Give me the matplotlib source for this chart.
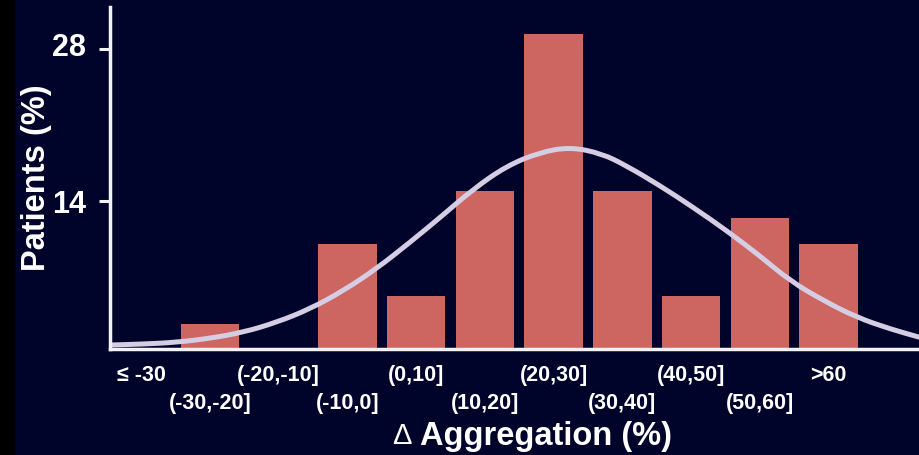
import matplotlib.pyplot as plt
from matplotlib.patches import Rectangle, PathPatch
from matplotlib.path import Path
from matplotlib.transforms import ScaledTranslation

plt.rcParams['font.family'] = ['Liberation Sans', 'DejaVu Sans']

# change in aggregation bins and share of patients per bin
categories = ['≤ -30', '(-30,-20]', '(-20,-10]', '(-10,0]', '(0,10]', '(10,20]',
              '(20,30]', '(30,40]', '(40,50]', '(50,60]', '>60']
patients_pct = [0, 2.6, 0, 10.0, 5.2, 14.9, 29.4, 14.9, 5.2, 12.4, 10.0]

# fitted distribution curve, in bin-index units
curve_x = [-0.46, 0.03, 0.51, 1.00, 1.48, 1.97, 2.45, 2.94, 3.43, 3.91, 4.35, 4.83, 5.32,
           5.80, 6.24, 6.70, 7.06, 7.55, 8.03, 8.52, 9.00, 9.44, 9.93, 10.41, 10.90, 11.33]
curve_y = [0.68, 0.77, 0.93, 1.30, 1.85, 2.78, 4.00, 5.69, 7.76, 10.16, 12.46, 15.07, 17.22,
           18.46, 18.95, 18.35, 17.22, 15.38, 13.39, 11.23, 8.92, 6.61, 4.77, 3.24, 2.16, 1.39]

navy = '#00032A'
W, H = 920, 456

fig = plt.figure(figsize=(W / 100, H / 100), dpi=100, facecolor=navy)
fig.add_artist(Rectangle((0, 0), 14 / W, 1, transform=fig.transFigure,
                         color='black', zorder=0))

ax = fig.add_axes([110 / W, 1 - 349.5 / H, 1 - 110 / W, (349.5 - 8) / H])
ax.set_facecolor(navy)

x = list(range(len(categories)))
ax.bar(x, patients_pct, width=0.85, color='#CD6561', zorder=2)

# smooth the fitted curve: quadratic segments through the midpoints of the points
pts = list(zip(curve_x, curve_y))
mids = [((a[0] + b[0]) / 2, (a[1] + b[1]) / 2) for a, b in zip(pts[:-1], pts[1:])]
verts = [pts[0], mids[0]]
codes = [Path.MOVETO, Path.LINETO]
for p, m in zip(pts[1:-1], mids[1:]):
    verts += [p, m]
    codes += [Path.CURVE3, Path.CURVE3]
verts.append(pts[-1])
codes.append(Path.LINETO)
ax.add_patch(PathPatch(Path(verts, codes), fill=False, edgecolor='#D5CDE3',
                       lw=3.6, zorder=3, capstyle='round'))

ax.set_xlim(-0.457, 11.333)
ax.set_ylim(0.36, 31.87)

for side in ('top', 'right'):
    ax.spines[side].set_visible(False)
for side in ('left', 'bottom'):
    ax.spines[side].set_color('#F2F2F2')
    ax.spines[side].set_linewidth(2.5)
    ax.spines[side].set_zorder(4)

ax.set_yticks([14, 28])
ax.set_yticklabels(['14', '28'], fontsize=22, fontweight='bold', color='white')
ax.tick_params(axis='y', length=8, width=2.2, color='#F2F2F2', pad=9)
lbl28 = ax.get_yticklabels()[1]
lbl28.set_transform(lbl28.get_transform() + ScaledTranslation(0, 5 / 100, fig.dpi_scale_trans))

# staggered bin labels: even bins on the upper row, odd bins below
ax.set_xticks(x[0::2])
ax.set_xticklabels(categories[0::2], fontsize=15.5, fontweight='bold', color='white')
ax.set_xticks(x[1::2], minor=True)
ax.set_xticklabels(categories[1::2], minor=True, fontsize=15.5, fontweight='bold', color='white')
ax.tick_params(axis='x', which='major', length=0, pad=11.5)
ax.tick_params(axis='x', which='minor', length=0, pad=31.5)

fig.text(37 / W, 1 - 178 / H, 'Patients (%)', rotation=90, ha='center', va='center',
         fontsize=23.5, fontweight='bold', color='white')
fig.text(402 / W, 1 - 436 / H, 'Δ', ha='center', va='center',
         fontsize=21, color='white')
fig.text(420 / W, 1 - 437 / H, 'Aggregation (%)', ha='left', va='center',
         fontsize=23.5, fontweight='bold', color='white')

fig.savefig('out.png', dpi=100, facecolor=fig.get_facecolor())
